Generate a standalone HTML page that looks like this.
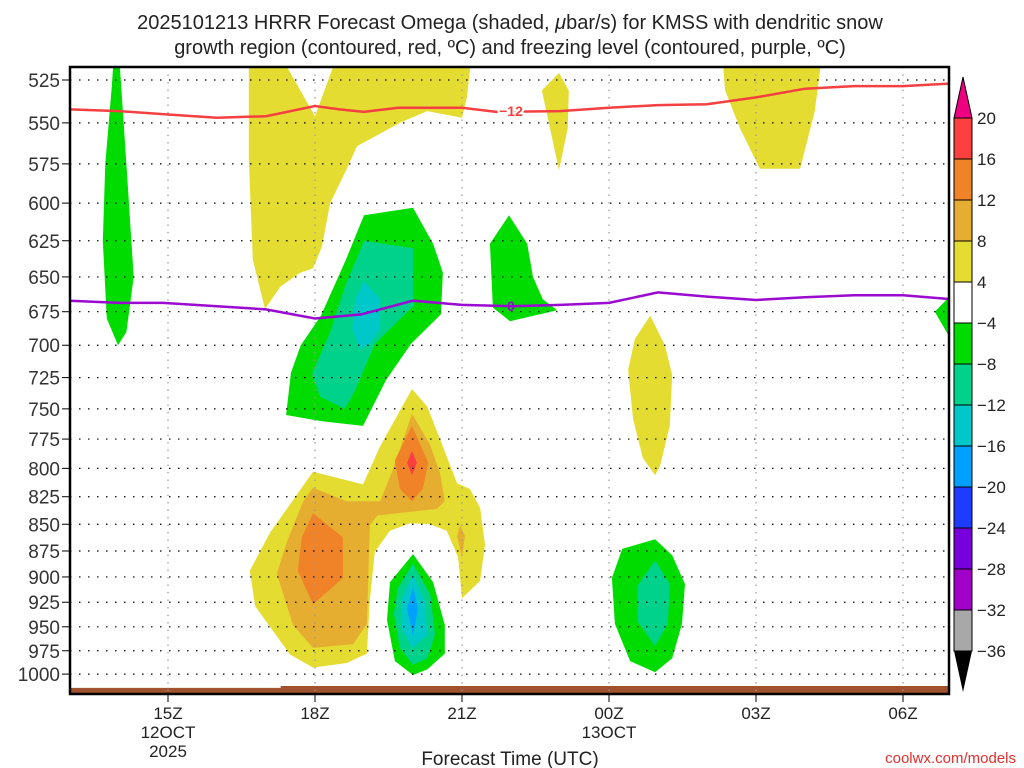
<!DOCTYPE html>
<html><head><meta charset="utf-8"><style>
body{margin:0;background:#fff;width:1024px;height:768px;overflow:hidden}
svg{display:block;font-family:"Liberation Sans",sans-serif}
</style></head><body>
<svg id="chart" width="1024" height="768" viewBox="0 0 1024 768" xmlns="http://www.w3.org/2000/svg">
<defs><clipPath id="pc"><rect x="70" y="67" width="879" height="627"/></clipPath></defs>
<text x="510" y="29" text-anchor="middle" font-size="20" fill="#222">2025101213 HRRR Forecast Omega (shaded, <tspan font-style="italic">μ</tspan>bar/s) for KMSS with dendritic snow</text>
<text x="510" y="54" text-anchor="middle" font-size="20" fill="#222">growth region (contoured, red, ºC) and freezing level (contoured, purple, ºC)</text>
<g id="fills" clip-path="url(#pc)"></g>
<g id="grid"></g>
<g id="lines" clip-path="url(#pc)"></g>
<rect x="70" y="67" width="879" height="627" fill="none" stroke="#000" stroke-width="2.5"/>
<g id="axes"></g>
<g id="cbar"></g>
<text x="510" y="765" text-anchor="middle" font-size="19" fill="#222">Forecast Time (UTC)</text>
<text x="1016" y="763" text-anchor="end" font-size="15" fill="#e03030">coolwx.com/models</text>
</svg>
<script>
const pTicks=[525,550,575,600,625,650,675,700,725,750,775,800,825,850,875,900,925,950,975,1000];
const tHours=[15,18,21,24,27,30];
const tLabels=[["15Z","12OCT","2025"],["18Z"],["21Z"],["00Z","13OCT"],["03Z"],["06Z"]];
const cbLevels=[20,16,12,8,4,-4,-8,-12,-16,-20,-24,-28,-32,-36];
const cbColors=["#fc4040","#f08228","#e6ae30","#e5dc32","#ffffff","#00dc00","#00d28c","#00c8c8","#00a0ff","#1e3cff","#7800dc","#a000c8","#a8a8a8"];
const yellowTopLeft=[[16.65,510],[17.27,510],[18.0,546],[18.47,510],[21.2,510],[21.1,535],[21.0,547],[20.29,543],[19.73,550],[18.86,564],[18.65,578],[18.31,600],[18.14,629],[17.96,644],[17.7,647],[17.29,657],[16.98,673],[16.73,638],[16.65,572]];
const yellowSpike=[[22.98,521],[23.18,531],[23.16,553],[22.98,579],[22.63,531]];
const yellowTopRight=[[26.31,510],[28.35,510],[28.2,543],[27.9,578],[27.08,578],[26.67,553],[26.37,531]];
const yellowMidRight=[[24.84,678],[25.14,700],[25.29,723],[25.24,764],[25.04,798],[24.94,806],[24.69,791],[24.49,758],[24.39,719],[24.53,695]];
const yellowLow=[[17.08,858],[17.96,803],[18.98,814],[19.33,781],[19.98,734],[20.29,748],[20.55,775],[20.9,813],[21.16,818],[21.37,835],[21.47,869],[21.37,904],[21.0,921],[20.92,881],[20.69,856],[20.35,850],[19.94,849],[19.53,856],[19.22,876],[19.12,922],[19.06,978],[18.65,988],[17.96,993],[17.49,979],[16.78,929],[16.67,894]];
const goldLow=[[17.96,817],[18.65,829],[19.33,829],[19.59,801],[19.98,754],[20.35,780],[20.55,804],[20.65,829],[20.49,836],[19.27,842],[19.12,851],[19.06,947],[18.78,968],[17.96,972],[17.55,948],[17.22,897],[17.43,866],[17.76,829]];
const goldSpot=[[20.96,851],[21.06,861],[21.0,881],[20.9,861]];
const orangeLeft=[[17.96,840],[18.57,862],[18.57,901],[17.96,927],[17.65,894],[17.73,862]];
const orangeUpper=[[19.98,764],[20.31,795],[20.2,818],[19.98,829],[19.73,818],[19.63,793]];
const redCore=[[19.98,785],[20.08,795],[19.98,806],[19.88,795]];
const greenLeft=[[13.9,510],[14.0,510],[14.15,575],[14.3,650],[14.15,690],[13.98,700],[13.75,680],[13.67,625],[13.72,575],[13.85,530]];
const greenMid=[[19.0,608],[20.0,603],[20.41,627],[20.61,647],[20.57,677],[19.96,699],[19.45,727],[18.98,764],[18.12,760],[17.41,755],[17.51,721],[17.71,700],[18.12,678],[18.63,638]];
const tealMid=[[19.0,625],[20.0,630],[20.0,671],[19.22,699],[18.82,735],[18.61,750],[18.1,740],[17.94,722],[18.31,690],[18.61,657]];
const cyanMid=[[19.0,653],[19.33,666],[19.33,688],[19.12,699],[18.92,703],[18.76,688],[18.82,666]];
const green22Z=[[21.96,608],[22.33,627],[22.45,650],[22.65,666],[22.94,674],[21.98,682],[21.63,672],[21.57,627]];
const greenEdge=[[31.2,655],[30.65,675],[31.2,710]];
const greenLowC=[[20.0,878],[20.41,905],[20.65,948],[20.65,978],[20.29,995],[20.0,1001],[19.63,986],[19.47,943],[19.53,905]];
const tealLowC=[[20.0,887],[20.35,917],[20.45,958],[20.29,983],[20.0,990],[19.73,972],[19.61,937],[19.69,911]];
const cyanLowC=[[20.0,898],[20.24,924],[20.29,958],[20.0,972],[19.76,951],[19.78,921]];
const blueLowC=[[20.0,910],[20.1,931],[20.0,960],[19.88,931]];
const greenLowR=[[24.94,864],[25.29,879],[25.55,907],[25.49,947],[25.29,983],[24.94,998],[24.43,986],[24.12,947],[24.06,901],[24.27,873]];
const tealLowR=[[24.94,884],[25.24,907],[25.2,947],[24.94,970],[24.59,945],[24.59,908]];
const dgzHours=[13,14,15,16,17,18,18.5,19,19.7,21,21.7,23,24,25,26,27,28,29,30,31];
const dgzP=[542,543,545,547,546,540,542,543.5,541,541,543.5,543,541,539.5,539,535,530,528.5,528.5,527];
const frzHours=[13,14,14.9,16,17,18,18.94,20,21,22,23.02,24,25,26,27,28,29,30,31];
const frzP=[667,668.6,668.6,671,673.3,680,677,667,670,671,670,668.6,661,664,666.5,664.5,663,663,666];
const groundHours=[13,17.3,17.3,21.5,31];
const groundP=[1015,1015,1013,1013,1013];

const X=h=>70+49*(h-13);
const Y=p=>80+922*Math.log(p/525);
const NS="http://www.w3.org/2000/svg";
function mk(tag,attrs,parent){const e=document.createElementNS(NS,tag);for(const k in attrs)e.setAttribute(k,attrs[k]);parent.appendChild(e);return e;}
const fills=document.getElementById('fills');
const regions=[
 [yellowTopLeft,"#e5dc32","yellow-region-upper-left"],[yellowSpike,"#e5dc32","yellow-region-spike"],[yellowTopRight,"#e5dc32","yellow-region-upper-right"],[yellowMidRight,"#e5dc32","yellow-region-mid-right"],
 [yellowLow,"#e5dc32","yellow-region-lower"],[goldLow,"#e6ae30","gold-region-lower"],[goldSpot,"#e6ae30","gold-spot"],[orangeLeft,"#f08228","orange-region-left"],[orangeUpper,"#f08228","orange-region-upper"],[redCore,"#fc4040","red-core"],
 [greenLeft,"#00dc00","green-region-left"],[greenMid,"#00dc00","green-region-mid"],[tealMid,"#00d28c","teal-region-mid"],[cyanMid,"#00c8c8","cyan-region-mid"],[green22Z,"#00dc00","green-region-22z"],[greenEdge,"#00dc00","green-region-edge"],
 [greenLowC,"#00dc00","green-region-lower-center"],[tealLowC,"#00d28c","teal-region-lower-center"],[cyanLowC,"#00c8c8","cyan-region-lower-center"],[blueLowC,"#00a0ff","blue-core-lower-center"],
 [greenLowR,"#00dc00","green-region-lower-right"],[tealLowR,"#00d28c","teal-region-lower-right"]];
regions.forEach(r=>{
 const el=mk('polygon',{points:r[0].map(d=>X(d[0]).toFixed(1)+","+Y(d[1]).toFixed(1)).join(" "),fill:r[1]},fills);
 
 
});
const gd=mk('polygon',{points:groundHours.map((h,i)=>X(h)+","+Y(groundP[i])).join(" ")+" "+X(31)+",700 "+X(13)+",700",fill:"#a0522d"},fills);


const grid=document.getElementById('grid'), axes=document.getElementById('axes');
pTicks.forEach(p=>{
 const y=Y(p);
 const l=mk('line',{x1:70,x2:949,y1:y,y2:y,stroke:"#000","stroke-width":1.2,"stroke-dasharray":"1.5 7.5"},grid);
 
 
 mk('line',{x1:62,x2:70,y1:y,y2:y,stroke:"#000","stroke-width":1},axes);
 const t=mk('text',{x:60,y:y+7,"text-anchor":"end","font-size":19,fill:"#333"},axes);
 t.textContent=p;
 
 
});
tHours.forEach((h,i)=>{
 const x=X(h);
 const l=mk('line',{x1:x,x2:x,y1:67,y2:694,stroke:"#999","stroke-width":1.2,"stroke-dasharray":"1.5 6"},grid);
 
 
 mk('line',{x1:x,x2:x,y1:694,y2:702,stroke:"#000","stroke-width":1},axes);
 tLabels[i].forEach((s,j)=>{
  const t=mk('text',{x:x,y:719+j*19,"text-anchor":"middle","font-size":17,fill:"#222"},axes);
  t.textContent=s;
  
  
 });
});
const lines=document.getElementById('lines');
function path(hs,ps){return hs.map((h,i)=>(i?"L":"M")+X(h).toFixed(1)+","+Y(ps[i]).toFixed(1)).join(" ");}
const dl=mk('path',{d:path(dgzHours,dgzP),fill:"none",stroke:"#f44040","stroke-width":2.5},lines);


const fl=mk('path',{d:path(frzHours,frzP),fill:"none",stroke:"#9a0ad0","stroke-width":2.5},lines);


const lb1=mk('text',{x:X(22.0),y:Y(543)+5,"text-anchor":"middle","font-size":14,"font-weight":"bold",fill:"#f44040",stroke:"#fff","stroke-width":4,"paint-order":"stroke"},lines);
lb1.textContent="−12";


const lb2=mk('text',{x:X(22.0),y:Y(671)+5,"text-anchor":"middle","font-size":14,"font-weight":"bold",fill:"#9a0ad0"},lines);
lb2.textContent="0";


const cb=document.getElementById('cbar');
const bx=954,bw=18,cbTop=118,bh=41;
const tt=mk('polygon',{points:`${bx},${cbTop} ${bx+bw},${cbTop} ${bx+bw/2},77`,fill:"#ee0080",stroke:"#000","stroke-width":1},cb);


cbColors.forEach((c,i)=>{
 const r=mk('rect',{x:bx,y:cbTop+i*bh,width:bw,height:bh,fill:c,stroke:"#000","stroke-width":1},cb);
 
 
});
const cbBot=cbTop+cbColors.length*bh;
const bt=mk('polygon',{points:`${bx},${cbBot} ${bx+bw},${cbBot} ${bx+bw/2},692`,fill:"#000"},cb);


cbLevels.forEach((v,i)=>{
 const t=mk('text',{x:977,y:cbTop+i*bh+6,"font-size":17,fill:"#222"},cb);
 t.textContent=v<0?"−"+(-v):String(v);
 
 
});
</script>
</body></html>
